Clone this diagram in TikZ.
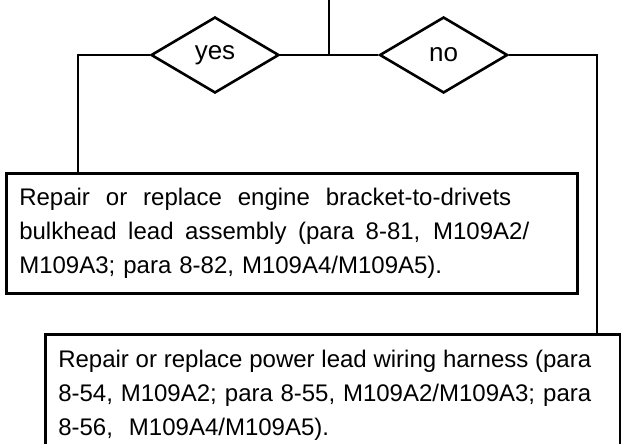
\documentclass[tikz,border=0pt]{standalone}
\usepackage{fontspec}
\setmainfont{Liberation Sans}
\usetikzlibrary{shapes.geometric,positioning}
\newcommand\spreadline[2]{\makebox[#1][s]{\spaceskip=.278em plus 1fil\relax #2}}

\begin{document}
\begin{tikzpicture}[x=1pt, y=-1pt, line width=2.6pt,
    choice/.style={diamond, draw, minimum width=128pt, minimum height=76pt, inner sep=0pt, font=\fontsize{26pt}{28pt}\selectfont},
    action/.style={draw, anchor=north west, align=left, inner xsep=13pt, font=\fontsize{24pt}{34pt}\selectfont}]
    \useasboundingbox (0,0) rectangle (621,444);
    \clip (0,0) rectangle (621,444);

    \node[choice] (yes) at (215,55) {yes};
    \node[choice, right=98pt of yes] (no) {no};

    \node[action, text width=545pt, minimum height=120pt] (repairbracket) at (5,172)
        {\spreadline{492pt}{Repair or replace engine bracket-to-drivets}\\
         \spreadline{510pt}{bulkhead lead assembly (para 8-81, M109A2/}\\
         M109A3; para 8-82, M109A4/M109A5).};
    \node[action, text width=549pt, inner ysep=16pt] (repairharness) at (44,333)
        {\spreadline{533pt}{Repair or replace power lead wiring harness (para}\\
         \spreadline{533pt}{8-54, M109A2; para 8-55, M109A2/M109A3; para}\\
         8-56,\ \ M109A4/M109A5).};

    \coordinate (top) at (329,0);
    \coordinate (join) at (329,55);
    \draw (top) -- (join);
    \draw (yes.east) -- (no.west);
    \draw (yes.west) -| ([xshift=73pt]repairbracket.north west);
    \draw (no.east) -| ([xshift=553pt]repairharness.north west);
\end{tikzpicture}
\end{document}
